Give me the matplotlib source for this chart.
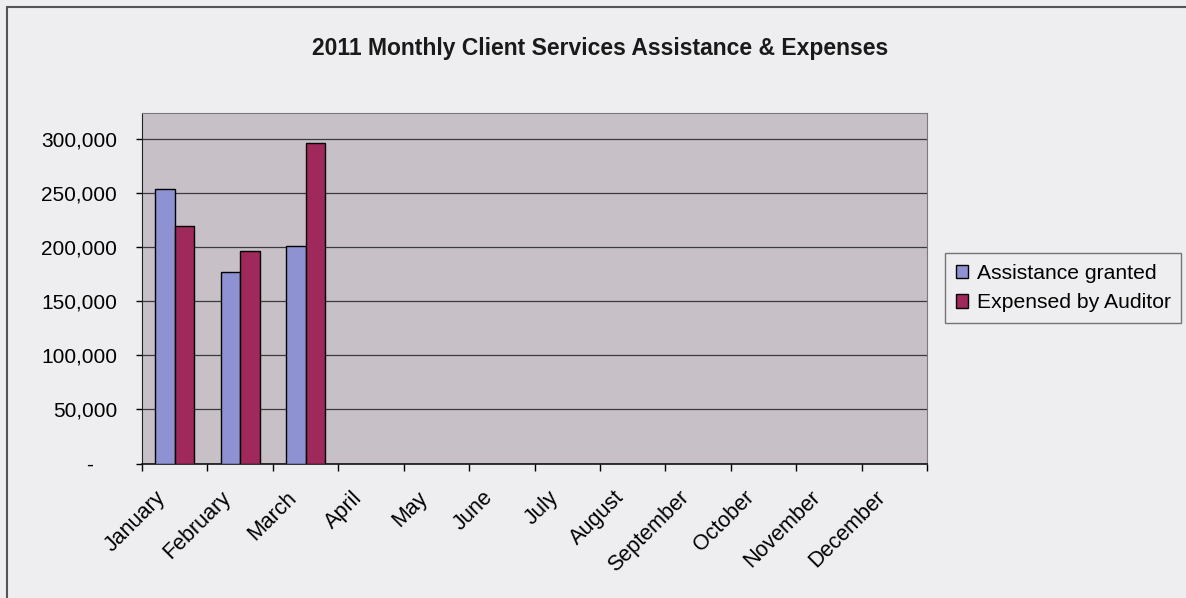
import numpy as np
import matplotlib
matplotlib.use("Agg")
import matplotlib.pyplot as plt
import matplotlib.transforms as mtransforms
from matplotlib.patches import Rectangle
from matplotlib.ticker import FuncFormatter, MultipleLocator

plt.rcParams['font.family'] = ['Liberation Sans', 'DejaVu Sans']

# data
months = ['January', 'February', 'March', 'April', 'May', 'June', 'July',
          'August', 'September', 'October', 'November', 'December']
assistance = [253500, 177000, 201500]   # only Jan-Mar reported
expensed = [219500, 196000, 296500]
series_names = ['Assistance granted', 'Expensed by Auditor']

bg = '#eeeef0'
fig = plt.figure(figsize=(11.86, 5.98), dpi=100, facecolor=bg)
ax = fig.add_axes([142 / 1186, 1 - 463.5 / 598, 785 / 1186, 350.5 / 598])
ax.set_facecolor('#c8c0c7')

# outer chart border
fig.patches.append(Rectangle((7 / 1186, -0.1), 1.2, 1.1 - 7 / 598,
                             transform=fig.transFigure, fill=False,
                             edgecolor='#555555', lw=1.5))

x = np.arange(len(assistance))
w = 0.3
ax.bar(x - w / 2, assistance, w, color='#8e92d2', edgecolor='black', lw=1,
       label=series_names[0], zorder=3)
ax.bar(x + w / 2, expensed, w, color='#a0295b', edgecolor='black', lw=1,
       label=series_names[1], zorder=3)

ax.set_xlim(-0.5, len(months) - 0.5)
ax.set_ylim(0, 324000)

# y axis
ax.yaxis.set_major_locator(MultipleLocator(50000))
ax.yaxis.set_major_formatter(FuncFormatter(lambda v, p: f"{v:,.0f}" if v else "-    "))
ax.grid(axis='y', color='#3a3a3a', lw=0.9, zorder=1)
ax.tick_params(axis='y', length=4, width=1, pad=14, labelsize=15)

# x axis: boundary ticks, labels at category centres
ax.set_xticks(np.arange(len(months)), months)
ax.set_xticks(np.arange(-0.5, len(months)), minor=True)
ax.tick_params(axis='x', which='major', length=0, pad=0, labelsize=15.5)
ax.tick_params(axis='x', which='minor', length=5, width=1)
shift = mtransforms.ScaledTranslation(-12 / 100, -31 / 100, fig.dpi_scale_trans)
for lbl in ax.get_xticklabels():
    lbl.set_rotation(45)
    lbl.set_ha('right')
    lbl.set_va('center')
    lbl.set_rotation_mode('anchor')
    lbl.set_transform(lbl.get_transform() + shift)

for s in ['top', 'right']:
    ax.spines[s].set_color('#7a7a7a')
ax.spines['left'].set_color('#222222')
ax.spines['bottom'].set_color('#111111')
ax.spines['bottom'].set_linewidth(1.2)

fig.text(600 / 1186, 1 - 48 / 598, '2011 Monthly Client Services Assistance & Expenses',
         ha='center', va='center', fontsize=16.5, fontweight='bold', color='#1a1a1a')

leg = ax.legend(loc='center left', bbox_to_anchor=(945 / 1186, 1 - 288 / 598),
                bbox_transform=fig.transFigure, fontsize=15.2, frameon=True,
                fancybox=False, handlelength=0.6, handleheight=0.6,
                handletextpad=0.4, borderpad=0.5, labelspacing=0.5,
                borderaxespad=0)
leg.get_frame().set_edgecolor('#555555')
leg.get_frame().set_facecolor(bg)
leg.get_frame().set_linewidth(1)

fig.savefig('out.png', dpi=100, facecolor=bg)
